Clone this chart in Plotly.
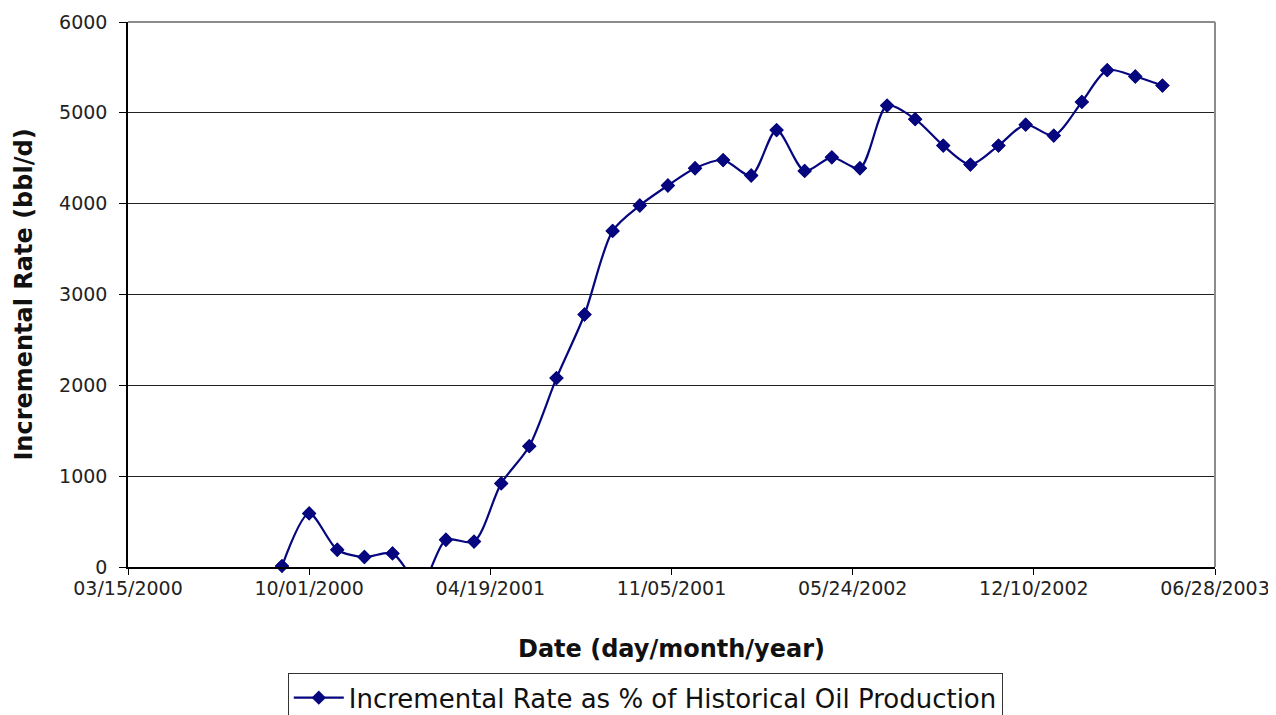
import plotly.graph_objects as go

dates = [
    "2000-09-01", "2000-10-01", "2000-11-01", "2000-12-01",
    "2001-01-01", "2001-02-01", "2001-03-01", "2001-04-01", "2001-05-01", "2001-06-01",
    "2001-07-01", "2001-08-01", "2001-09-01", "2001-10-01", "2001-11-01", "2001-12-01",
    "2002-01-01", "2002-02-01", "2002-03-01", "2002-04-01", "2002-05-01", "2002-06-01",
    "2002-07-01", "2002-08-01", "2002-09-01", "2002-10-01", "2002-11-01", "2002-12-01",
    "2003-01-01", "2003-02-01", "2003-03-01", "2003-04-01", "2003-05-01",
]
rates = [
    10, 590, 190, 110,
    150, -200, 300, 280, 920, 1330,
    2080, 2780, 3700, 3980, 4200, 4390,
    4480, 4310, 4810, 4360, 4510, 4390,
    5080, 4930, 4640, 4430, 4640, 4870,
    4750, 5120, 5470, 5400, 5300,
]
x_tick_labels = ["03/15/2000", "10/01/2000", "04/19/2001", "11/05/2001",
                 "05/24/2002", "12/10/2002", "06/28/2003"]
x_tick_vals = ["2000-03-15", "2000-10-01", "2001-04-19", "2001-11-05",
               "2002-05-24", "2002-12-10", "2003-06-28"]
y_ticks = [0, 1000, 2000, 3000, 4000, 5000, 6000]

series_name = "Incremental Rate as % of Historical Oil Production"
navy = "#06067f"
font_family = "DejaVu Sans, Arial, sans-serif"

fig = go.Figure()
fig.add_trace(go.Scatter(
    x=dates, y=rates, mode="lines+markers", name=series_name,
    line=dict(color=navy, width=2.2, shape="spline", smoothing=0.8),
    marker=dict(symbol="diamond", size=11, color=navy),
    cliponaxis=True,
))
vis = [(d, r) for d, r in zip(dates, rates) if r >= 0]
fig.add_trace(go.Scatter(
    x=[d for d, _ in vis], y=[r for _, r in vis], mode="markers",
    marker=dict(symbol="diamond", size=11, color=navy),
    showlegend=False, cliponaxis=False, hoverinfo="skip",
))

# gray frame on top and right
fig.add_shape(type="line", xref="paper", yref="paper", x0=0, x1=1, y0=1, y1=1,
              line=dict(color="#8c8c8c", width=2), layer="above")
fig.add_shape(type="line", xref="paper", yref="paper", x0=1, x1=1, y0=0, y1=1,
              line=dict(color="#8c8c8c", width=2), layer="above")

fig.update_layout(
    width=1276, height=715,
    margin=dict(l=120, r=69, t=14, b=156, autoexpand=False),
    paper_bgcolor="white", plot_bgcolor="white",
    font=dict(family=font_family, color="#111"),
    showlegend=True,
    legend=dict(
        x=0.147, y=-0.195, xanchor="left", yanchor="top",
        bordercolor="#333", borderwidth=1, itemwidth=50,
        font=dict(size=26, family=font_family, color="#111"),
        bgcolor="white",
    ),
    xaxis=dict(
        type="date", automargin=False,
        range=["2000-03-15", "2003-06-28"],
        tickvals=x_tick_vals, ticktext=x_tick_labels,
        ticks="outside", ticklen=6, tickcolor="black", tickwidth=1,
        ticklabelstandoff=-3,
        showline=True, linecolor="black", linewidth=1.5,
        showgrid=False, zeroline=False,
        tickfont=dict(size=19, color="#222"),
        title=dict(text="<b>Date (day/month/year)</b>", font=dict(size=24, color="#111"), standoff=43),
    ),
    yaxis=dict(
        range=[0, 6000], automargin=False,
        tickvals=y_ticks,
        ticks="outside", ticklen=7, tickcolor="black", tickwidth=1,
        ticklabelstandoff=8,
        showline=True, linecolor="black", linewidth=1.5,
        showgrid=True, gridcolor="#222", gridwidth=1,
        zeroline=False,
        tickfont=dict(size=19, color="#222"),
        title=dict(text="<b>Incremental Rate (bbl/d)</b>", font=dict(size=24, color="#111"), standoff=20),
    ),
)

fig.write_html("out.html")
